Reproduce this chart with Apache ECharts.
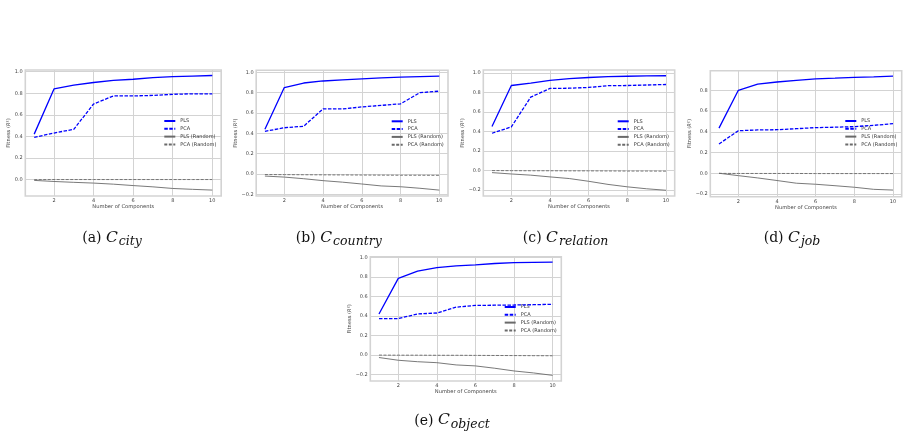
<!DOCTYPE html>
<html>
<head>
<meta charset="utf-8">
<script src="https://cdn.jsdelivr.net/npm/echarts@6/dist/echarts.min.js"></script>
<style>
  html, body { margin: 0; padding: 0; background: #fff; }
  #chart { width: 908px; height: 438px; }
</style>
</head>
<body>
<div id="chart"></div>
<script>
// number of components on the x axis
const components = [1, 2, 3, 4, 5, 6, 7, 8, 9, 10]
const xTicks = [2, 4, 6, 8, 10]
const yTicks = [-0.2, 0.0, 0.2, 0.4, 0.6, 0.8, 1.0]
const seriesNames = ['PLS', 'PCA', 'PLS (Random)', 'PCA (Random)']

const cityPLS = [0.42, 0.84, 0.875, 0.90, 0.92, 0.93, 0.945, 0.955, 0.96, 0.965]
const cityPCA = [0.39, 0.43, 0.465, 0.70, 0.775, 0.775, 0.78, 0.79, 0.795, 0.795]
const cityPLSRandom = [-0.01, -0.02, -0.028, -0.035, -0.045, -0.058, -0.07, -0.085, -0.093, -0.10]
const cityPCARandom = [-0.003, -0.002, -0.002, -0.002, -0.002, -0.002, -0.002, -0.002, -0.002, -0.002]

const countryPLS = [0.44, 0.85, 0.895, 0.915, 0.925, 0.935, 0.945, 0.952, 0.958, 0.963]
const countryPCA = [0.42, 0.455, 0.47, 0.64, 0.64, 0.66, 0.675, 0.69, 0.80, 0.815]
const countryPLSRandom = [-0.02, -0.03, -0.046, -0.065, -0.08, -0.098, -0.117, -0.125, -0.14, -0.158]
const countryPCARandom = [-0.005, -0.006, -0.007, -0.008, -0.009, -0.01, -0.011, -0.012, -0.012, -0.013]

const relationPLS = [0.45, 0.87, 0.895, 0.922, 0.94, 0.952, 0.96, 0.965, 0.968, 0.97]
const relationPCA = [0.38, 0.445, 0.75, 0.84, 0.842, 0.85, 0.868, 0.87, 0.875, 0.88]
const relationPLSRandom = [-0.024, -0.038, -0.05, -0.068, -0.085, -0.113, -0.145, -0.17, -0.19, -0.205]
const relationPCARandom = [-0.003, -0.004, -0.005, -0.005, -0.006, -0.006, -0.007, -0.008, -0.008, -0.009]

const jobPLS = [0.435, 0.80, 0.86, 0.88, 0.895, 0.91, 0.917, 0.925, 0.93, 0.937]
const jobPCA = [0.283, 0.41, 0.418, 0.42, 0.43, 0.44, 0.444, 0.45, 0.462, 0.478]
const jobPLSRandom = [0.0, -0.023, -0.045, -0.07, -0.096, -0.106, -0.12, -0.135, -0.155, -0.162]
const jobPCARandom = [-0.001, -0.002, -0.002, -0.002, -0.002, -0.003, -0.003, -0.003, -0.003, -0.003]

const objectPLS = [0.42, 0.785, 0.86, 0.895, 0.914, 0.924, 0.938, 0.947, 0.95, 0.953]
const objectPCA = [0.373, 0.373, 0.42, 0.43, 0.49, 0.508, 0.51, 0.512, 0.515, 0.52]
const objectPLSRandom = [-0.027, -0.055, -0.07, -0.08, -0.103, -0.113, -0.137, -0.165, -0.185, -0.21]
const objectPCARandom = [-0.002, -0.003, -0.003, -0.004, -0.004, -0.005, -0.006, -0.007, -0.008, -0.009]

const captionLetters = ['a', 'b', 'c', 'd', 'e']
const captionSubscripts = ['city', 'country', 'relation', 'job', 'object']

const panelData = [
  [cityPLS, cityPCA, cityPLSRandom, cityPCARandom],
  [countryPLS, countryPCA, countryPLSRandom, countryPCARandom],
  [relationPLS, relationPCA, relationPLSRandom, relationPCARandom],
  [jobPLS, jobPCA, jobPLSRandom, jobPCARandom],
  [objectPLS, objectPCA, objectPLSRandom, objectPCARandom],
]

// layout of the five subplots (pixels)
const panels = [
  { grid: { left: 25.3, top: 70, width: 195.9, height: 126 }, yMin: -0.155, yMax: 1.016, nameGap: 12.5, legend: [163.3, 118], caption: [112, 239] },
  { grid: { left: 256.2, top: 70.3, width: 191.8, height: 125.7 }, yMin: -0.216, yMax: 1.02, nameGap: 17, legend: [390.7, 118.3], caption: [338.8, 239] },
  { grid: { left: 483.3, top: 70, width: 191.4, height: 126 }, yMin: -0.264, yMax: 1.029, nameGap: 17, legend: [616.7, 118.3], caption: [565.6, 239] },
  { grid: { left: 710.3, top: 70.7, width: 191.4, height: 126 }, yMin: -0.226, yMax: 0.989, nameGap: 17, legend: [844.3, 118], caption: [792, 239] },
  { grid: { left: 370.3, top: 256.7, width: 191, height: 124.3 }, yMin: -0.268, yMax: 1.008, nameGap: 17, legend: [503.7, 304], caption: [452, 421.5] },
]

const lineStyles = [
  { color: '#0000ff', width: 1.3, type: 'solid' },
  { color: '#0000ff', width: 1.3, type: [3.5, 1.5] },
  { color: '#6a6a6a', width: 0.9, type: 'solid' },
  { color: '#6a6a6a', width: 0.9, type: [3, 1.5] },
]

const gridColor = '#d3d3d3'
const labelColor = '#444'
const font = 'DejaVu Sans'

function fmtTick(v) {
  const s = Math.abs(v).toFixed(1)
  return v < -1e-9 ? '\u2212' + s : s
}

function buildOption() {
  const grid = [], xAxis = [], yAxis = [], series = [], legend = [], graphic = []

  panels.forEach((p, i) => {
    grid.push({
      ...p.grid,
      show: true,
      backgroundColor: '#fff',
      borderColor: gridColor,
      borderWidth: 1.6,
      outerBoundsMode: 'none',
    })
    xAxis.push({
      type: 'value',
      gridIndex: i,
      min: 0.55,
      max: 10.45,
      name: 'Number of Components',
      nameLocation: 'middle',
      nameGap: 7.7,
      nameTextStyle: { color: labelColor, fontSize: 5.2, fontFamily: font },
      axisLine: { show: false },
      axisTick: { show: false, customValues: xTicks },
      axisLabel: { customValues: xTicks, color: labelColor, fontSize: 5, fontFamily: font, margin: 2.5 },
      splitLine: { show: true, lineStyle: { color: gridColor, width: 1 } },
    })
    yAxis.push({
      type: 'value',
      gridIndex: i,
      min: p.yMin,
      max: p.yMax,
      name: '{t|Fitness (}{i|R}{t|²)}',
      nameLocation: 'middle',
      nameGap: p.nameGap,
      nameTextStyle: {
        color: labelColor,
        rich: {
          t: { fontSize: 5.2, fontFamily: font, color: labelColor },
          i: { fontSize: 5.2, fontFamily: font, fontStyle: 'italic', color: labelColor },
        },
      },
      axisLine: { show: false },
      axisTick: { show: false, customValues: yTicks },
      axisLabel: { customValues: yTicks, color: labelColor, fontSize: 5, fontFamily: font, margin: 2.5, formatter: fmtTick },
      splitLine: { show: true, lineStyle: { color: gridColor, width: 1 } },
    })

    panelData[i].forEach((vals, k) => {
      series.push({
        name: seriesNames[k],
        type: 'line',
        xAxisIndex: i,
        yAxisIndex: i,
        data: components.map((c, j) => [c, vals[j]]),
        symbol: 'none',
        z: 10 - k,
        lineStyle: lineStyles[k],
        itemStyle: { color: lineStyles[k].color },
        emphasis: { disabled: true },
      })
    })

    legend.push({
      left: p.legend[0],
      top: p.legend[1],
      orient: 'vertical',
      data: seriesNames,
      itemWidth: 11,
      itemHeight: 6,
      itemGap: 1.8,
      padding: 0,
      selectedMode: false,
      // hide the marker dot, keep only the line sample
      itemStyle: { opacity: 0, borderWidth: 0 },
      textStyle: { color: '#333', fontSize: 5, fontFamily: font, lineHeight: 6 },
    })

    graphic.push({
      type: 'text',
      x: p.caption[0],
      y: p.caption[1],
      style: {
        text: '{p|(' + captionLetters[i] + ') }{c|C}{s|' + captionSubscripts[i] + '}',
        align: 'center',
        verticalAlign: 'middle',
        rich: {
          p: { fontFamily: 'DejaVu Serif', fontSize: 14, fill: '#111', verticalAlign: 'bottom', padding: [0, 0, 3, 0] },
          c: { fontFamily: 'DejaVu Serif', fontSize: 15.5, fontStyle: 'italic', fill: '#111', verticalAlign: 'bottom', padding: [0, 1, 3, 0] },
          s: { fontFamily: 'DejaVu Serif', fontSize: 12.5, fontStyle: 'italic', fill: '#111', verticalAlign: 'bottom' },
        },
      },
    })
  })

  return {
    animation: false,
    backgroundColor: '#fff',
    grid, xAxis, yAxis, series, legend, graphic,
  }
}

const chart = echarts.init(document.getElementById('chart'), null, { renderer: 'canvas' })
chart.setOption(buildOption())
</script>
</body>
</html>
